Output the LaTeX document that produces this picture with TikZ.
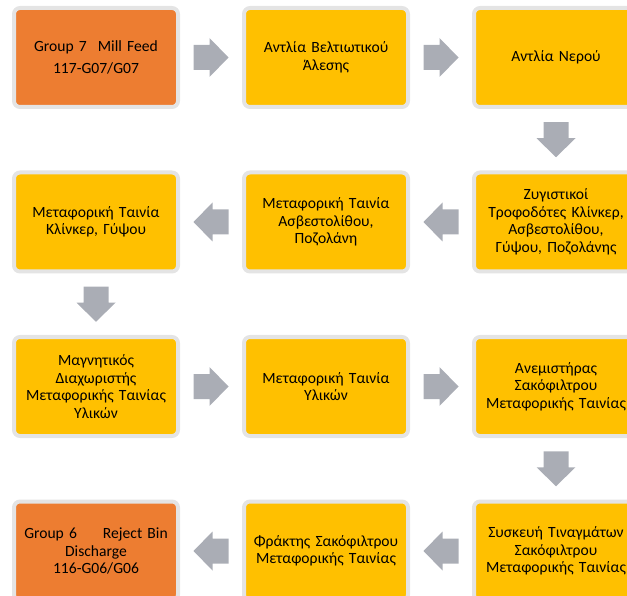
\documentclass[tikz,border=0pt]{standalone}
\usepackage{fontspec}
\setmainfont{Carlito}
\usetikzlibrary{calc}
\definecolor{stepyellow}{RGB}{255,192,0}
\definecolor{steporange}{RGB}{237,125,49}
\definecolor{stepedge}{RGB}{228,228,228}
\definecolor{arrowgray}{RGB}{170,173,181}

\tikzset{
  stepbox/.style={rectangle, rounded corners=6pt, draw=stepedge, line width=4pt,
    fill=stepyellow, minimum width=164pt, minimum height=99pt, align=center,
    text width=162pt, inner sep=0pt, font=\fontsize{15.6}{17.5}\selectfont},
  groupbox/.style={stepbox, fill=steporange},
  flowarrow/.pic={
    \fill[arrowgray] (-17.5,-12.5) -- (-1.5,-12.5) -- (-1.5,-19.5) -- (17.5,0)
      -- (-1.5,19.5) -- (-1.5,12.5) -- (-17.5,12.5) -- cycle;
  }
}

\begin{document}
\begin{tikzpicture}[x=1pt,y=-1pt]
\useasboundingbox (0,0) rectangle (627,596);
\clip (0,0) rectangle (627,596);

% first row
\node[groupbox] (g7) at (96,57.5) {Group 7\hspace{11pt}Mill Feed\\[5pt]117-G07/G07};
\node[stepbox] (p1) at (326,57.5) {Αντλία Βελτιωτικού\\Άλεσης};
\node[stepbox] (p2) at (556,57.5) {Αντλία Νερού};

% second row
\node[stepbox] (f1) at (556,222) {Ζυγιστικοί\\Τροφοδότες Κλίνκερ,\\Ασβεστολίθου,\\Γύψου, Ποζολάνης};
\node[stepbox] (c1) at (326,222) {Μεταφορική Ταινία\\Ασβεστολίθου,\\Ποζολάνη};
\node[stepbox] (c2) at (96,222) {Μεταφορική Ταινία\\Κλίνκερ, Γύψου};

% third row
\node[stepbox] (m1) at (96,386.5) {Μαγνητικός\\Διαχωριστής\\Μεταφορικής Ταινίας\\Υλικών};
\node[stepbox] (c3) at (326,386.5) {Μεταφορική Ταινία\\Υλικών};
\node[stepbox] (fan) at (556,386.5) {Ανεμιστήρας\\Σακόφιλτρου\\Μεταφορικής Ταινίας};

% fourth row
\node[stepbox] (sh) at (556,551) {Συσκευή Τιναγμάτων\\Σακόφιλτρου\\Μεταφορικής Ταινίας};
\node[stepbox] (lk) at (326,551) {Φράκτης Σακόφιλτρου\\Μεταφορικής Ταινίας};
\node[groupbox] (g6) at (96,551) {Group 6\hspace{26pt}Reject Bin\\Discharge\\116-G06/G06};

% block arrows between the steps
\pic at ($(g7.east)!0.5!(p1.west)$) {flowarrow};
\pic at ($(p1.east)!0.5!(p2.west)$) {flowarrow};
\pic[rotate=-90] at ($(p2.south)!0.5!(f1.north)$) {flowarrow};
\pic[rotate=180] at ($(f1.west)!0.5!(c1.east)$) {flowarrow};
\pic[rotate=180] at ($(c1.west)!0.5!(c2.east)$) {flowarrow};
\pic[rotate=-90] at ($(c2.south)!0.5!(m1.north)$) {flowarrow};
\pic at ($(m1.east)!0.5!(c3.west)$) {flowarrow};
\pic at ($(c3.east)!0.5!(fan.west)$) {flowarrow};
\pic[rotate=-90] at ($(fan.south)!0.5!(sh.north)$) {flowarrow};
\pic[rotate=180] at ($(sh.west)!0.5!(lk.east)$) {flowarrow};
\pic[rotate=180] at ($(lk.west)!0.5!(g6.east)$) {flowarrow};
\end{tikzpicture}
\end{document}
